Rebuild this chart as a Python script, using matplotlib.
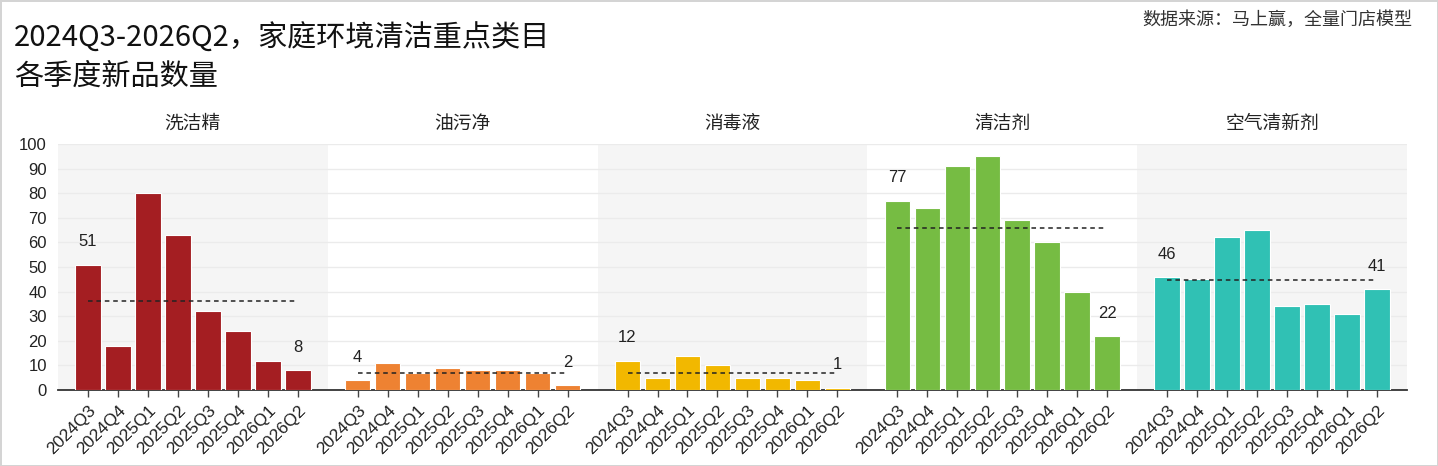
#!/usr/bin/env python3
"""Quarterly new-product counts for key home-cleaning categories."""

import matplotlib

matplotlib.use("Agg", force=True)

import matplotlib.pyplot as plt
import numpy as np

QUARTERS = ["2024Q3", "2024Q4", "2025Q1", "2025Q2", "2025Q3", "2025Q4", "2026Q1", "2026Q2"]
CATEGORIES = ["洗洁精", "油污净", "消毒液", "清洁剂", "空气清新剂"]

DISH_SOAP = [51, 18, 80, 63, 32, 24, 12, 8]
GREASE_CLEANER = [4, 11, 7, 9, 8, 8, 7, 2]
DISINFECTANT = [12, 5, 14, 10, 5, 5, 4, 1]
DETERGENT = [77, 74, 91, 95, 69, 60, 40, 22]
AIR_FRESHENER = [46, 45, 62, 65, 34, 35, 31, 41]

SERIES = [DISH_SOAP, GREASE_CLEANER, DISINFECTANT, DETERGENT, AIR_FRESHENER]
COLORS = ["#A41E22", "#EE8232", "#F2B800", "#76BC43", "#30C1B4"]

TITLE = "2024Q3-2026Q2，家庭环境清洁重点类目\n各季度新品数量"
SOURCE = "数据来源：马上赢，全量门店模型"

CJK = ["Noto Sans CJK SC", "DejaVu Sans"]
LATIN = ["Liberation Sans", "DejaVu Sans"]


def plot_chart():
    plt.rcParams["font.family"] = CJK

    fig = plt.figure(figsize=(14.38, 4.66), dpi=100)
    fig.patch.set_facecolor("white")
    fig.patch.set_edgecolor("#d4d4d4")
    fig.patch.set_linewidth(2)

    ax = fig.add_axes([0.0403, 0.163, 0.9381, 0.528])
    n = len(QUARTERS)
    slot = n + 1

    tick_pos = []
    tick_lab = []
    for g, (name, vals, color) in enumerate(zip(CATEGORIES, SERIES, COLORS)):
        x = np.arange(n) + g * slot
        if g % 2 == 0:
            ax.axvspan(g * slot - 1, g * slot + n, color="#F5F5F5", zorder=0, lw=0)
        ax.bar(x, vals, width=0.85, color=color, edgecolor="white", linewidth=0.8, zorder=3)
        mean = np.mean(vals)
        ax.plot([x[0], x[-1]], [mean, mean], ls=(0, (3, 2.5)), color="#222222", lw=1.1, zorder=4)
        for i in (0, n - 1):
            ax.annotate(str(vals[i]), (x[i], vals[i]), xytext=(0, 11), textcoords="offset points",
                        ha="center", va="bottom", fontsize=12, color="#222222", family=LATIN)
        ax.text(g * slot + (n - 1) / 2, 104, name, ha="center", va="bottom",
                fontsize=13.5, color="#222222")
        tick_pos.extend(x)
        tick_lab.extend(QUARTERS)

    ax.set_xlim(-1, len(CATEGORIES) * slot - 1)
    ax.set_ylim(0, 100)
    ax.set_yticks(np.arange(0, 101, 10))
    ax.yaxis.grid(True, color="#EBEBEB", lw=1, zorder=1)
    ax.set_axisbelow(True)

    ax.set_xticks(tick_pos)
    ax.set_xticklabels(tick_lab, rotation=45, ha="right", rotation_mode="anchor",
                       fontsize=12.5, family=LATIN, color="#222222")
    for lab in ax.get_yticklabels():
        lab.set_family(LATIN)
        lab.set_fontsize(12)
        lab.set_color("#222222")
    ax.tick_params(axis="y", length=0, pad=8)
    ax.tick_params(axis="x", length=5, width=1, color="#444444", pad=4)

    for side in ("top", "right", "left"):
        ax.spines[side].set_visible(False)
    ax.spines["bottom"].set_color("#333333")
    ax.spines["bottom"].set_linewidth(1.3)

    fig.text(0.0097, 0.95, TITLE, ha="left", va="top", fontsize=21, color="#111111",
             linespacing=1.38)
    fig.text(0.982, 0.958, SOURCE, ha="right", va="center", fontsize=13, color="#333333")

    fig.savefig("out.png", dpi=100, facecolor=fig.get_facecolor(), edgecolor=fig.get_edgecolor())
    return fig


if __name__ == "__main__":
    plot_chart()
